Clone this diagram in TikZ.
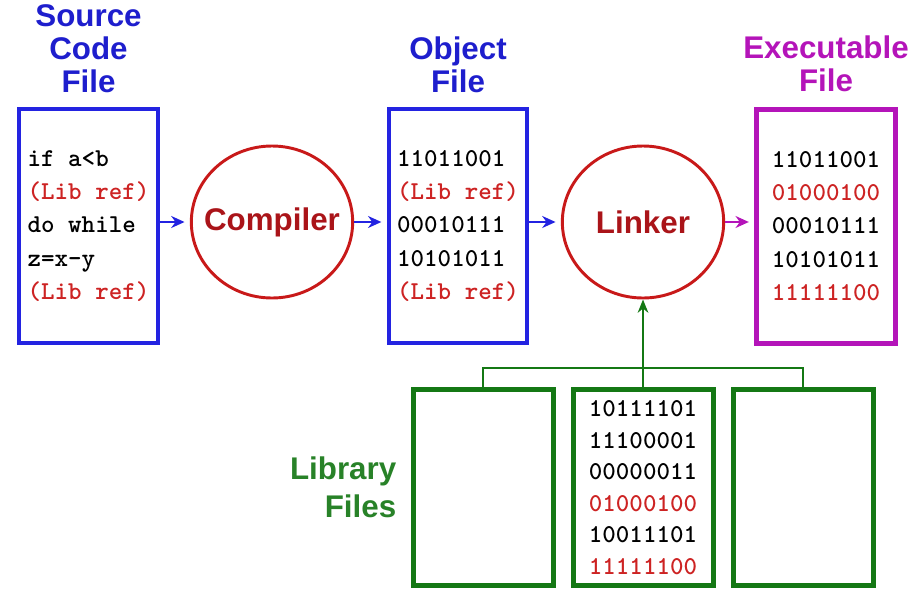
\documentclass[tikz,border=0pt]{standalone}
\usepackage{fontspec}
\setmainfont{Liberation Sans}
\usetikzlibrary{shapes.geometric, arrows.meta, positioning}
\definecolor{fileblue}{RGB}{35,35,225}
\definecolor{titleblue}{RGB}{30,30,205}
\definecolor{procred}{RGB}{200,25,25}
\definecolor{proctext}{RGB}{170,20,25}
\definecolor{codered}{RGB}{205,35,35}
\definecolor{execmagenta}{RGB}{180,20,185}
\definecolor{libgreen}{RGB}{20,120,20}
\definecolor{libtext}{RGB}{40,130,40}
\newcommand{\redline}[1]{\textcolor{codered}{#1}}

\begin{document}
\begin{tikzpicture}[
    x=0.75pt, y=-0.75pt,
    filebox/.style={rectangle, draw, line width=3pt, minimum width=104pt, minimum height=175.5pt, align=left, font=\ttfamily\bfseries\fontsize{19.3}{25}\selectfont},
    libbox/.style={rectangle, draw=libgreen, line width=3.75pt, minimum width=105pt, minimum height=147pt, align=left, font=\ttfamily\bfseries\fontsize{19.3}{23.6}\selectfont},
    process/.style={ellipse, draw=procred, line width=2.2pt, inner sep=0pt, minimum width=121pt, minimum height=114pt},
    proctitle/.style={text=proctext, font=\bfseries\fontsize{23.5}{28}\selectfont},
    filetitle/.style={align=center, inner sep=0pt, font=\bfseries\fontsize{23.5}{24.75}\selectfont},
    arrow/.style={-{Stealth[length=10pt, width=9pt]}, line width=1.5pt, shorten >=4pt},
    busline/.style={draw=libgreen, line width=1.5pt},
    node distance=10.5pt
]
    \useasboundingbox (0,0) rectangle (924,590);

    % Source code file
    \node[filebox, draw=fileblue] (src) at (88.5,226) {
        if a<b\\
        \redline{(Lib ref)}\\
        do while\\
        z=x-y\\
        \redline{(Lib ref)}
    };
    \node[filetitle, text=titleblue, above=of src] (srctitle) {Source\\Code\\File};

    % Compiler
    \node[process, label={[proctitle]center:Compiler}] (compiler) at (272,222) {};

    % Object file
    \node[filebox, draw=fileblue] (obj) at (458,226) {
        11011001\\
        \redline{(Lib ref)}\\
        00010111\\
        10101011\\
        \redline{(Lib ref)}
    };
    \node[filetitle, text=titleblue, above=of obj] (objtitle) {Object\\File};

    % Linker
    \node[process, label={[proctitle]center:Linker}] (linker) at (643,222) {};

    % Executable file
    \node[filebox, draw=execmagenta, line width=3.75pt] (exe) at (826,226) {
        11011001\\
        \redline{01000100}\\
        00010111\\
        10101011\\
        \redline{11111100}
    };
    \node[filetitle, text=execmagenta, above=of exe] (exetitle) {Executable\\File};

    % Library files
    \node[libbox] (libleft) at (483,487.5) {};
    \node[libbox] (libmid) at (643,487.5) {
        10111101\\
        11100001\\
        00000011\\
        \redline{01000100}\\
        10011101\\
        \redline{11111100}
    };
    \node[libbox] (libright) at (803,487.5) {};
    \node[align=right, inner sep=0pt, text=libtext, font=\bfseries\fontsize{23.5}{28.5}\selectfont, left=of libleft] (libtitle) {Library\\Files};

    % Flow arrows
    \draw[arrow, fileblue] (compiler.west -| src.east) -- (compiler.west);
    \draw[arrow, fileblue] (compiler.east) -- (compiler.east -| obj.west);
    \draw[arrow, fileblue] (linker.west -| obj.east) -- (linker.west);
    \draw[arrow, execmagenta] (linker.east) -- (linker.east -| exe.west);

    % Library links
    \coordinate (bus) at (643,368);
    \draw[busline] (libleft.north) |- (bus) -| (libright.north);
    \draw[busline, -{Stealth[length=10pt, width=8pt]}] (libmid.north) -- (linker.south);

\end{tikzpicture}
\end{document}
